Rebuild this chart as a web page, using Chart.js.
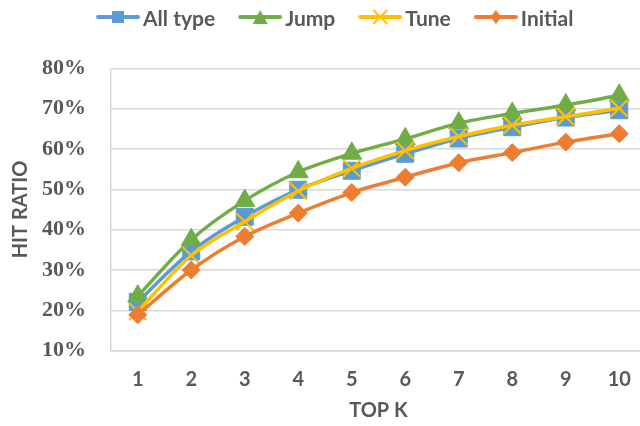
<!DOCTYPE html>
<html><head><meta charset="utf-8">
<script src="https://cdn.jsdelivr.net/npm/chart.js@4"></script>
<style>
html,body{margin:0;padding:0;background:#fff;overflow:hidden;width:640px;height:426px}
#wrap{width:660px;height:426px}
</style></head>
<body><div id="wrap"><canvas id="c" width="660" height="426"></canvas></div>
<script>
const categories = ['1','2','3','4','5','6','7','8','9','10'];
const allType = [22.1, 34.6, 43.2, 49.9, 54.6, 58.8, 62.6, 65.4, 67.8, 69.6];
const jump    = [23.5, 37.5, 47.2, 54.3, 58.9, 62.5, 66.4, 68.8, 70.9, 73.3];
const tune    = [19.7, 33.6, 42.0, 49.6, 55.2, 59.6, 63.1, 65.9, 68.0, 70.1];
const initial = [18.9, 30.0, 38.3, 44.1, 49.2, 53.0, 56.6, 59.1, 61.7, 63.8];
const seriesNames = ['All type', 'Jump', 'Tune', 'Initial'];
const yMin = 10, yMax = 80, yStep = 10;

const colors = ['#5B9BD5', '#70AD47', '#FFC000', '#ED7D31'];
const styles = ['rect', 'triangle', 'crossRot', 'rectRot'];
const textColor = '#595959';
const gridColor = '#D9D9D9';

function legendImg(kind, color) {
  const W = 66, H = 22;
  const c = document.createElement('canvas');
  c.width = W; c.height = H;
  const g = c.getContext('2d');
  const ly = 9, cx = 44;
  g.strokeStyle = color; g.fillStyle = color;
  g.lineWidth = 4; g.lineCap = 'round';
  g.beginPath(); g.moveTo(24, ly); g.lineTo(64, ly); g.stroke();
  if (kind === 'rect') {
    g.fillRect(cx - 6, ly - 6, 12, 12);
  } else if (kind === 'triangle') {
    g.beginPath(); g.moveTo(cx, ly - 7); g.lineTo(cx + 7.5, ly + 7); g.lineTo(cx - 7.5, ly + 7); g.closePath(); g.fill();
  } else if (kind === 'crossRot') {
    g.lineWidth = 2; g.lineCap = 'butt';
    g.beginPath(); g.moveTo(cx - 7, ly - 7); g.lineTo(cx + 7, ly + 7);
    g.moveTo(cx + 7, ly - 7); g.lineTo(cx - 7, ly + 7); g.stroke();
  } else {
    g.beginPath(); g.moveTo(cx, ly - 7); g.lineTo(cx + 5.5, ly); g.lineTo(cx, ly + 7); g.lineTo(cx - 5.5, ly); g.closePath(); g.fill();
  }
  return c;
}
const legendImgs = styles.map((s, i) => legendImg(s, colors[i]));

const legendHeight = {
  id: 'legendHeight',
  beforeInit(chart) {
    const fit = chart.legend.fit;
    chart.legend.fit = function () { fit.bind(chart.legend)(); this.height = 68.3; };
  }
};

const seriesData = [allType, jump, tune, initial];
const radii = [12, 11.5, 12, 9];
const datasets = seriesData.map((d, i) => ({
  label: seriesNames[i],
  data: d,
  borderColor: colors[i],
  backgroundColor: colors[i],
  pointBackgroundColor: colors[i],
  pointBorderColor: colors[i],
  pointBorderWidth: i === 2 ? 2 : 1,
  pointStyle: styles[i],
  pointRadius: radii[i],
  borderWidth: 3.5,
  tension: 0.3,
  fill: false,
  order: 3 - i
}));

const sansBold = { family: 'Lato', weight: 'bold', size: 21 };

new Chart(document.getElementById('c'), {
  type: 'line',
  data: { labels: categories, datasets },
  options: {
    responsive: false,
    animation: false,
    layout: { padding: { left: 0, right: 5, top: 0, bottom: 0 } },
    plugins: {
      tooltip: { enabled: false },
      legend: {
        position: 'top',
        labels: {
          usePointStyle: true,
          pointStyleWidth: 51,
          padding: 8.5,
          font: sansBold,
          color: textColor,
          sort: (a, b) => a.datasetIndex - b.datasetIndex,
          generateLabels(chart) {
            const items = Chart.defaults.plugins.legend.labels.generateLabels(chart);
            items.forEach(it => { it.pointStyle = legendImgs[it.datasetIndex]; });
            return items;
          }
        }
      }
    },
    scales: {
      x: {
        type: 'category',
        offset: true,
        grid: { display: false, drawTicks: false },
        border: { display: true, color: gridColor, width: 1.5 },
        ticks: { font: { family: 'Lato', weight: 'bold', size: 20 }, color: textColor, padding: 17 },
        title: { display: true, text: 'TOP K', font: { family: 'Lato', weight: 'bold', size: 20 }, color: textColor, padding: { top: 0, bottom: 3 } },
        afterFit(s) { s.height = 75.3; }
      },
      y: {
        min: yMin, max: yMax,
        ticks: {
          stepSize: yStep,
          callback: v => v + '%',
          font: { family: 'Liberation Serif', weight: 'bold', size: 22 },
          color: textColor,
          padding: 25
        },
        grid: { color: gridColor, lineWidth: 1.5, drawTicks: false },
        border: { display: true, color: gridColor, width: 1.5 },
        title: { display: true, text: 'HIT RATIO', font: { family: 'Lato', weight: 'bold', size: 20 }, color: textColor, padding: { top: 9, bottom: 0 } },
        afterFit(s) { s.width = 111; }
      }
    }
  },
  plugins: [legendHeight]
});
</script>
</body></html>
